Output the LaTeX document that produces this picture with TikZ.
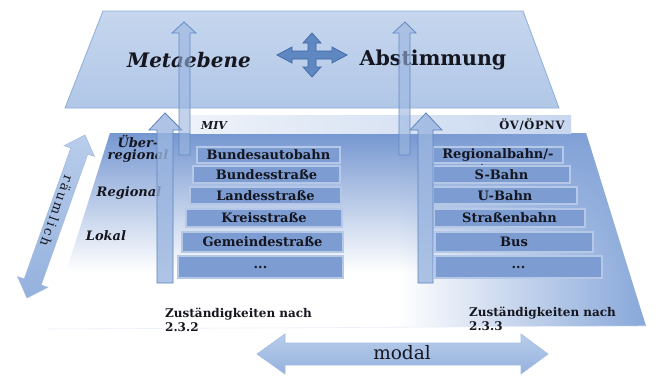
\documentclass[tikz,border=0pt]{standalone}
\usepackage{fontspec}
\setmainfont{DejaVu Serif}
\newfontfamily\spacedfont[LetterSpace=18]{DejaVu Serif}
\newfontfamily\lightspaced[LetterSpace=6]{DejaVu Serif}
\usetikzlibrary{fadings}
\definecolor{topA}{HTML}{C6D6EE}
\definecolor{topB}{HTML}{B1C7E7}
\definecolor{topedge}{HTML}{8FAED9}
\definecolor{lowtop}{HTML}{7597D1}
\definecolor{lowright}{HTML}{86A6D9}
\definecolor{rowfill}{HTML}{7C9CD2}
\definecolor{rowedge}{HTML}{B5C8E8}
\definecolor{arrfill}{HTML}{9AB5DF}
\definecolor{arredge}{HTML}{5D84BF}
\definecolor{crossfill}{HTML}{5F88C2}
\definecolor{crossedge}{HTML}{3F67A3}
\definecolor{dblA}{HTML}{B9CDEB}
\definecolor{dblB}{HTML}{94B1DD}
\definecolor{dbledge}{HTML}{A3BCE3}
\definecolor{hdrL}{HTML}{EEF2F9}
\definecolor{hdrR}{HTML}{C8D7EF}
\definecolor{txt}{HTML}{15161F}
\tikzfading[name=fadeeast, left color=transparent!100, right color=transparent!0]
\tikzfading[name=fadeband, left color=transparent!100, middle color=transparent!0, right color=transparent!100]
\begin{document}
\begin{tikzpicture}[x=1pt,y=-1pt,
  rowbox/.style={fill=rowfill, draw=rowedge, line width=1.2pt, text=txt,
    font=\bfseries\fontsize{13}{14}\selectfont, inner sep=0pt},
  levellabel/.style={text=txt, font=\bfseries\itshape\fontsize{13}{12.5}\selectfont,
    align=center, inner sep=0pt},
  zustlabel/.style={text=txt, font=\bfseries\fontsize{12}{14}\selectfont,
    align=left, inner sep=0pt, anchor=north west},
  bigarrow/.style={fill=arrfill, fill opacity=0.8, draw=arredge, line width=0.8pt},
  thinarrow/.style={fill=arrfill, fill opacity=0.6, draw=arredge, draw opacity=0.9, line width=0.8pt},
  dblarrow/.style={top color=dblA, bottom color=dblB, draw=dbledge, line width=0.6pt},
]
\useasboundingbox (0,0) rectangle (656,376);
\fill[white] (0,0) rectangle (656,376);

% lower plane
\begin{scope}
  \clip (110,133) -- (586,133) -- (646,326) -- (48,329) -- cycle;
  \shade[top color=lowtop, bottom color=white] (40,133) rectangle (650,272);
  \fill[white] (40,272) rectangle (650,330);
  \fill[lowright, path fading=fadeeast] (400,133) rectangle (650,330);
  \fill[white, fill opacity=0.55, path fading=fadeband] (335,133) rectangle (445,330);
\end{scope}
\draw[white!85!lowtop, line width=0.6pt] (646,326) -- (48,329);

% header strip
\shade[left color=hdrL, right color=hdrR] (190,115) rectangle (571,133);
\node[text=txt, font=\bfseries\itshape\fontsize{11}{12}\selectfont, inner sep=0pt] (miv) at (214,125) {MIV};
\node[text=txt, font=\lightspaced\bfseries\fontsize{11.5}{12}\selectfont, inner sep=0pt] (oev) at (532,125) {ÖV/ÖPNV};

% rows MIV
\node[rowbox, minimum width=143pt, minimum height=16pt] (m1) at (268.5,155) {Bundesautobahn};
\node[rowbox, minimum width=147pt, minimum height=17pt] (m2) at (266.5,174.5) {Bundesstraße};
\node[rowbox, minimum width=151pt, minimum height=17pt] (m3) at (265.5,195.5) {Landesstraße};
\node[rowbox, minimum width=156pt, minimum height=18pt] (m4) at (264,218) {Kreisstraße};
\node[rowbox, minimum width=161pt, minimum height=20pt] (m5) at (262.5,242) {Gemeindestraße};
\node[rowbox, minimum width=165pt, minimum height=22pt] (m6) at (260.5,267) {...};

% rows OEV
\node[rowbox, minimum width=130pt, minimum height=16pt] (o1) at (498,155) {Regionalbahn/-};
\node[text=txt, font=\bfseries\fontsize{7}{7}\selectfont, inner sep=0pt] (o1dot) at (482,165) {.};
\node[rowbox, minimum width=137pt, minimum height=17pt] (o2) at (501.5,174.5) {S-Bahn};
\node[rowbox, minimum width=144pt, minimum height=17pt] (o3) at (505,195.5) {U-Bahn};
\node[rowbox, minimum width=151pt, minimum height=18pt] (o4) at (509.5,218) {Straßenbahn};
\node[rowbox, minimum width=158pt, minimum height=20pt] (o5) at (514,242) {Bus};
\node[rowbox, minimum width=167pt, minimum height=22pt] (o6) at (518.5,267) {...};

% level labels
\node[levellabel] (ueber) at (138,149) {Über-\\regional};
\node[levellabel] (regional) at (129,193) {Regional};
\node[levellabel] (lokal) at (106,236) {Lokal};

% Zustaendigkeiten
\node[zustlabel] (z1) at (165,308) {Zuständigkeiten nach\\2.3.2};
\node[zustlabel] (z2) at (469,307) {Zuständigkeiten nach\\2.3.3};

% big vertical arrows
\draw[bigarrow] (165,113) -- (182,130) -- (173,130) -- (173,283) -- (157,283) -- (157,130) -- (149,130) -- cycle;
\draw[bigarrow] (426,113) -- (442,130) -- (433,130) -- (433,283) -- (418,283) -- (418,130) -- (410,130) -- cycle;

% top plane
\shade[top color=topA, bottom color=topB] (103,11) -- (523,11) -- (559,108) -- (65,108) -- cycle;
\draw[topedge, line width=0.8pt] (103,11) -- (523,11) -- (559,108) -- (65,108) -- cycle;
\node[text=txt, font=\bfseries\itshape\fontsize{20}{22}\selectfont, inner sep=0pt] (meta) at (189,60) {Metaebene};
\node[text=txt, font=\bfseries\fontsize{20.5}{22}\selectfont, inner sep=0pt] (abst) at (433,60) {Abstimmung};

% cross arrow
\begin{scope}[shift={(312,55)}]
\draw[fill=crossfill, draw=crossedge, line width=0.7pt]
  (-35,0) -- (-20,-8) -- (-20,-4) -- (-4,-4) -- (-4,-12) -- (-9,-12) -- (0,-22) -- (9,-12) -- (4,-12) -- (4,-4)
  -- (20,-4) -- (20,-8) -- (35,0) -- (20,8) -- (20,4) -- (4,4) -- (4,12) -- (9,12) -- (0,22) -- (-9,12)
  -- (-4,12) -- (-4,4) -- (-20,4) -- (-20,8) -- cycle;
\end{scope}

% thin vertical arrows into the top plane
\draw[thinarrow] (184,22) -- (196,33) -- (190,33) -- (190,155) -- (179,155) -- (179,33) -- (172,33) -- cycle;
\draw[thinarrow] (405,22) -- (416,33) -- (410,33) -- (410,155) -- (399,155) -- (399,33) -- (393,33) -- cycle;

% raeumlich arrow
\begin{scope}[shift={(85,135)}, rotate=-109.6]
\draw[dblarrow] (0,0) -- (17,16) -- (17,9) -- (156,9) -- (156,16) -- (173,0) -- (156,-16) -- (156,-9) -- (17,-9) -- (17,-16) -- cycle;
\end{scope}
\node[text=txt, font=\spacedfont\fontsize{13}{14}\selectfont, inner sep=0pt, rotate=-109.6] (raum) at (57,211) {räumlich};

% modal arrow
\draw[dblarrow] (257,354) -- (285,334) -- (285,343) -- (521,343) -- (521,334) -- (548,354) -- (521,374) -- (521,365) -- (285,365) -- (285,374) -- cycle;
\node[text=txt, font=\fontsize{18.5}{20}\selectfont, inner sep=0pt] (modal) at (402,353) {modal};
\end{tikzpicture}
\end{document}
